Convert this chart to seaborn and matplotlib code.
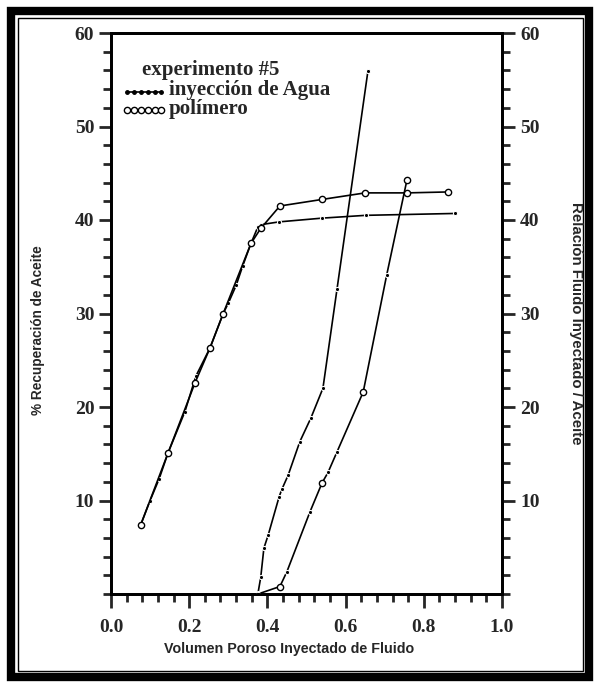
import numpy as np
import pandas as pd
import seaborn as sns
import matplotlib.pyplot as plt
from matplotlib.patches import Rectangle
from matplotlib.lines import Line2D
from matplotlib.ticker import MultipleLocator

# recuperacion de aceite (%), eje izquierdo
agua_vp = [0.076, 0.10, 0.123, 0.146, 0.189, 0.217, 0.253, 0.287, 0.30, 0.32, 0.337, 0.358, 0.376, 0.383, 0.43, 0.54, 0.652, 0.88]
agua_rec = [7.4, 10.0, 12.3, 15.1, 19.5, 23.3, 26.3, 30.0, 31.1, 33.0, 35.1, 37.5, 39.3, 39.5, 39.8, 40.2, 40.5, 40.7]
pol_vp = [0.076, 0.146, 0.215, 0.253, 0.287, 0.358, 0.383, 0.432, 0.54, 0.65, 0.757, 0.862]
pol_rec = [7.4, 15.1, 22.6, 26.3, 30.0, 37.5, 39.1, 41.5, 42.2, 42.9, 42.9, 43.0]

# relacion fluido inyectado / aceite, eje derecho
agua_rel_vp = [0.376, 0.383, 0.391, 0.402, 0.43, 0.437, 0.453, 0.483, 0.511, 0.542, 0.578, 0.657]
agua_rel = [0.1, 1.8, 4.9, 6.3, 10.4, 11.2, 12.7, 16.3, 18.8, 22.0, 32.6, 55.9]
pol_rel_vp = [0.376, 0.432, 0.45, 0.509, 0.54, 0.555, 0.578, 0.645, 0.705, 0.757]
pol_rel = [0.0, 0.8, 2.4, 8.8, 11.9, 13.0, 15.2, 21.6, 34.1, 44.3]
pol_rel_circ = [1, 4, 7, 9]  # puntos marcados con circulo

x_ticks = [0.0, 0.2, 0.4, 0.6, 0.8, 1.0]
y_ticks = [10, 20, 30, 40, 50, 60]

sns.set_style("white")
serif = ['Liberation Serif', 'DejaVu Serif']
sans = ['Liberation Sans', 'DejaVu Sans']

fig = plt.figure(figsize=(6, 6.88), dpi=100)
ax = fig.add_axes([111/600, 94/688, 391/600, 561/688])
ax2 = ax.twinx()

df_agua = pd.DataFrame({'vp': agua_vp, 'val': agua_rec})
df_pol = pd.DataFrame({'vp': pol_vp, 'val': pol_rec})
df_agua_rel = pd.DataFrame({'vp': agua_rel_vp, 'val': agua_rel})
df_pol_rel = pd.DataFrame({'vp': pol_rel_vp, 'val': pol_rel})

kw_agua = dict(color='black', linewidth=1.2, marker='o', markersize=3, sort=False)
kw_pol = dict(color='black', linewidth=1.2, marker='o', markersize=4.5,
              markerfacecolor='white', markeredgecolor='black', markeredgewidth=1.0, sort=False)

sns.lineplot(data=df_agua, x='vp', y='val', ax=ax, **kw_agua)
sns.lineplot(data=df_pol, x='vp', y='val', ax=ax, **kw_pol)
sns.lineplot(data=df_agua_rel, x='vp', y='val', ax=ax2, **kw_agua)
sns.lineplot(data=df_pol_rel, x='vp', y='val', ax=ax2, **kw_agua)
sns.lineplot(data=df_pol_rel.iloc[pol_rel_circ], x='vp', y='val', ax=ax2,
             color='black', linestyle='none', marker='o', markersize=4.5,
             markerfacecolor='white', markeredgecolor='black', markeredgewidth=1.0, sort=False)

for a in (ax, ax2):
    a.set_xlim(0, 1.0)
    a.set_ylim(0, 60)
    a.set_ylabel('')
    a.set_xlabel('')
    for s in a.spines.values():
        s.set_linewidth(2)
        s.set_color('black')

ax.set_xticks(x_ticks)
ax.set_xticklabels([f'{v:.1f}' for v in x_ticks], fontfamily=serif, fontweight='bold', fontsize=14)
ax.xaxis.set_minor_locator(MultipleLocator(0.04))
ax.set_yticks(y_ticks)
ax.set_yticklabels([str(v) for v in y_ticks], fontfamily=serif, fontweight='bold', fontsize=14)
ax.yaxis.set_minor_locator(MultipleLocator(2))
ax2.set_yticks(y_ticks)
ax2.set_yticklabels([str(v) for v in y_ticks], fontfamily=serif, fontweight='bold', fontsize=14)
ax2.yaxis.set_minor_locator(MultipleLocator(2))

ax.tick_params(axis='x', which='major', direction='out', length=10, width=2, bottom=True, pad=8)
ax.tick_params(axis='x', which='minor', direction='out', length=6, width=2, bottom=True)
ax.tick_params(axis='y', which='major', direction='out', length=9, width=2, left=True, pad=3)
ax.tick_params(axis='y', which='minor', direction='out', length=6, width=2, left=True)
ax2.tick_params(axis='y', which='major', direction='out', length=9, width=2, right=True, pad=4)
ax2.tick_params(axis='y', which='minor', direction='out', length=6, width=2, right=True)

fig.text(38/600, 1 - 330/688, '% Recuperación de Aceite', rotation=90, ha='center', va='center',
         fontfamily=sans, fontweight='bold', fontsize=9.8)
fig.text(576/600, 1 - 323/688, 'Relación Fluido Inyectado / Aceite', rotation=-90, ha='center', va='center',
         fontfamily=sans, fontweight='bold', fontsize=10.8)
fig.text(289/600, 1 - 649/688, 'Volumen Poroso Inyectado de Fluido', ha='center', va='center',
         fontfamily=sans, fontweight='bold', fontsize=10.3)

# leyenda
fig.text(142/600, 1 - 70/688, 'experimento #5', ha='left', va='center',
         fontfamily=serif, fontweight='bold', fontsize=15)
fig.text(169/600, 1 - 90/688, 'inyección de Agua', ha='left', va='center',
         fontfamily=serif, fontweight='bold', fontsize=15)
fig.text(169/600, 1 - 109/688, 'polímero', ha='left', va='center',
         fontfamily=serif, fontweight='bold', fontsize=15)
xs = np.array([127, 134, 141, 148, 155, 161]) / 600
fig.add_artist(Line2D(xs, [1 - 92/688] * len(xs), color='black', linewidth=1.2, marker='o', markersize=2.5))
fig.add_artist(Line2D(xs, [1 - 110/688] * len(xs), color='black', linewidth=1.2, marker='o', markersize=4.5,
                      markerfacecolor='white', markeredgewidth=1.0))

# marco doble
fig.add_artist(Rectangle((11/600, 11/688), 578/600, 666/688, transform=fig.transFigure,
                         fill=False, edgecolor='black', linewidth=6))
fig.add_artist(Rectangle((17.5/600, 17.5/688), 565/600, 653/688, transform=fig.transFigure,
                         fill=False, edgecolor='black', linewidth=1.0))

fig.savefig('out.png', dpi=100)
